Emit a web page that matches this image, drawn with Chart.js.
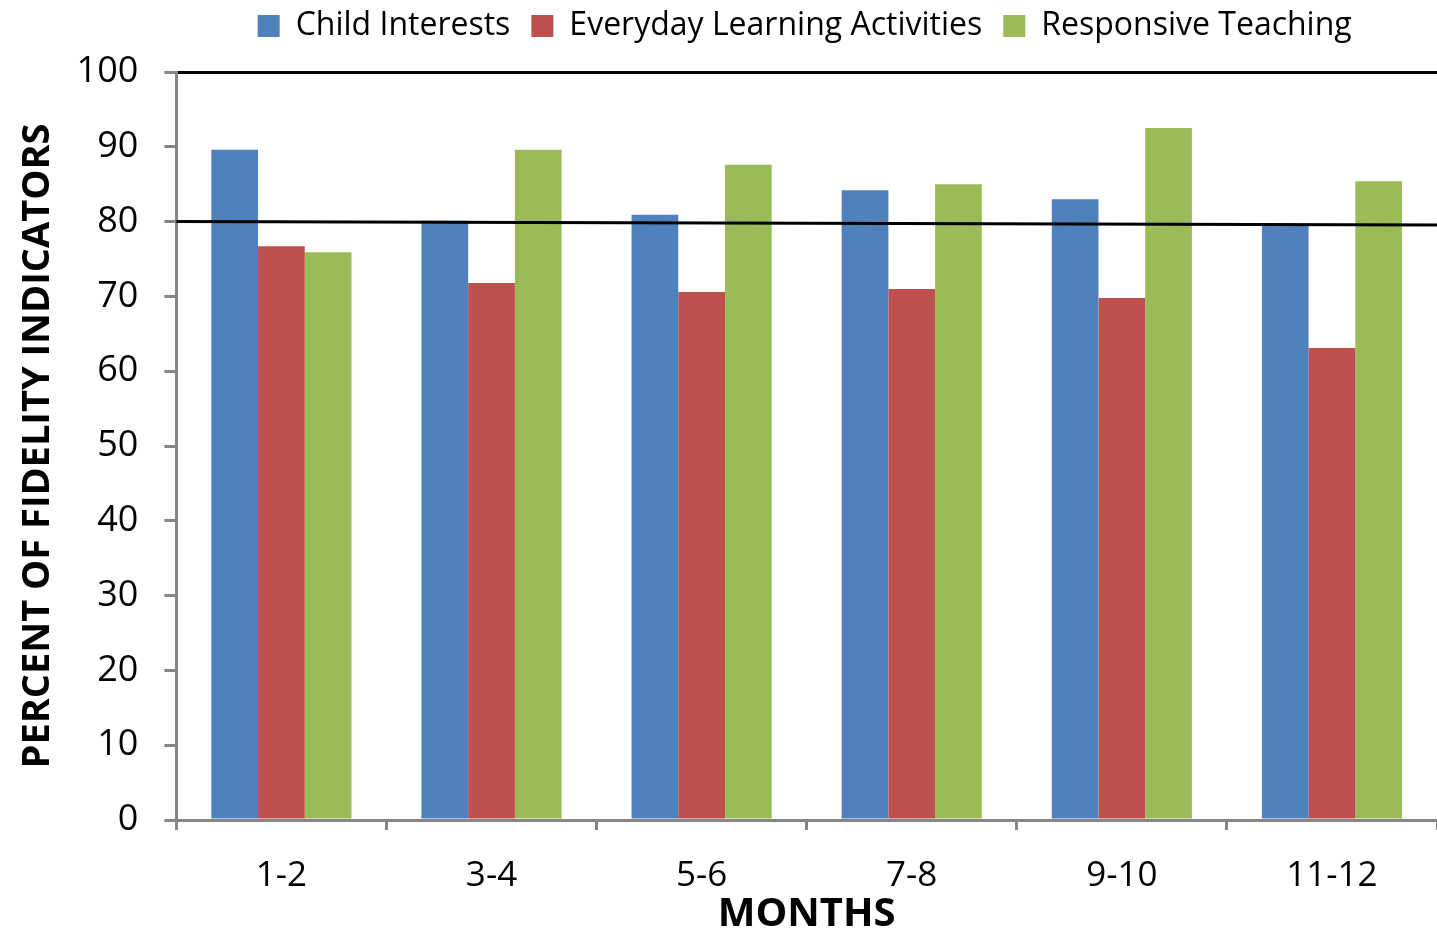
<!DOCTYPE html>
<html><head><meta charset="utf-8">
<script src="https://cdn.jsdelivr.net/npm/chart.js@4/dist/chart.umd.min.js"></script>
<style>html,body{margin:0;padding:0;background:#fff;}#wrap{width:1437px;height:939px;}</style>
</head><body><div id="wrap"><canvas id="c"></canvas></div>
<script>
const categories = ['1-2','3-4','5-6','7-8','9-10','11-12'];
const childInterests = [89.6, 80.1, 80.9, 84.2, 83.0, 79.5];
const everydayLearning = [76.7, 71.8, 70.6, 71.0, 69.8, 63.1];
const responsiveTeaching = [75.9, 89.6, 87.6, 85.0, 92.5, 85.4];
const referenceLine = [80.0, 79.55]; // value at left edge, value at right edge
const yTicks = [0,10,20,30,40,50,60,70,80,90,100];
const FONT = "'Open Sans', sans-serif";
const GRAY = '#868686';

const legendShift = {
  id:'legendShift',
  afterLayout(chart){
    const lg = chart.legend; if(!lg) return;
    const dx = (chart.chartArea.left + chart.chartArea.right)/2 - chart.width/2 - 6;
    const dy = -20;
    lg.left += dx; lg.right += dx;
    lg.top += dy; lg.bottom += dy;
    if (lg.legendHitBoxes) lg.legendHitBoxes.forEach(h=>{h.left += dx; h.top += dy;});
  }
};

const refLinePlugin = {
  id:'refLine',
  afterDatasetsDraw(chart){
    const {ctx, chartArea, scales} = chart;
    const y = scales.y;
    ctx.save();
    ctx.strokeStyle = '#000'; ctx.lineWidth = 3;
    ctx.beginPath();
    ctx.moveTo(chartArea.left, y.getPixelForValue(referenceLine[0]));
    ctx.lineTo(chartArea.right, y.getPixelForValue(referenceLine[1]));
    ctx.stroke();
    ctx.restore();
  }
};

const barOpts = {categoryPercentage:0.667, barPercentage:1.0, borderWidth:0};

new Chart(document.getElementById('c'), {
  type:'bar',
  data: {
    labels: categories,
    datasets: [
      Object.assign({label:'Child Interests', data: childInterests, backgroundColor:'#4F81BD'}, barOpts),
      Object.assign({label:'Everyday Learning Activities', data: everydayLearning, backgroundColor:'#C0504D'}, barOpts),
      Object.assign({label:'Responsive Teaching', data: responsiveTeaching, backgroundColor:'#9BBB59'}, barOpts)
    ]
  },
  plugins:[legendShift, refLinePlugin],
  options: {
    responsive:true, maintainAspectRatio:false, animation:false,
    layout:{padding:{left:8, right:0, top:9, bottom:0}},
    plugins:{
      tooltip:{enabled:false},
      legend:{
        position:'top',
        labels:{font:{family:FONT, size:32}, color:'#000', boxWidth:22, boxHeight:22, padding:21}
      }
    },
    scales:{
      x:{
        type:'category', offset:true,
        grid:{offset:true, drawOnChartArea:false, color:GRAY, tickColor:GRAY, tickLength:10, lineWidth:3, tickWidth:3},
        border:{color:GRAY, width:3},
        ticks:{font:{family:FONT, size:35, lineHeight:1.0}, color:'#000', padding:29},
        title:{display:true, text:'MONTHS', font:{family:FONT, size:40, weight:'bold', lineHeight:1.0}, color:'#000', padding:{top:-28, bottom:4}}
      },
      y:{
        min:0, max:100,
        afterBuildTicks:(s)=>{s.ticks = yTicks.map(v=>({value:v}));},
        grid:{color:(c)=>c.tick && c.tick.value===100 ? '#000' : 'rgba(0,0,0,0)', tickColor:GRAY, tickLength:12, lineWidth:3, tickWidth:3},
        border:{color:GRAY, width:3},
        ticks:{font:{family:FONT, size:36}, color:'#000', padding:26},
        title:{display:true, text:'PERCENT OF FIDELITY INDICATORS', font:{family:FONT, size:38, weight:'bold'}, color:'#000', padding:{top:7,bottom:-10}}
      }
    }
  }
});
</script></body></html>
